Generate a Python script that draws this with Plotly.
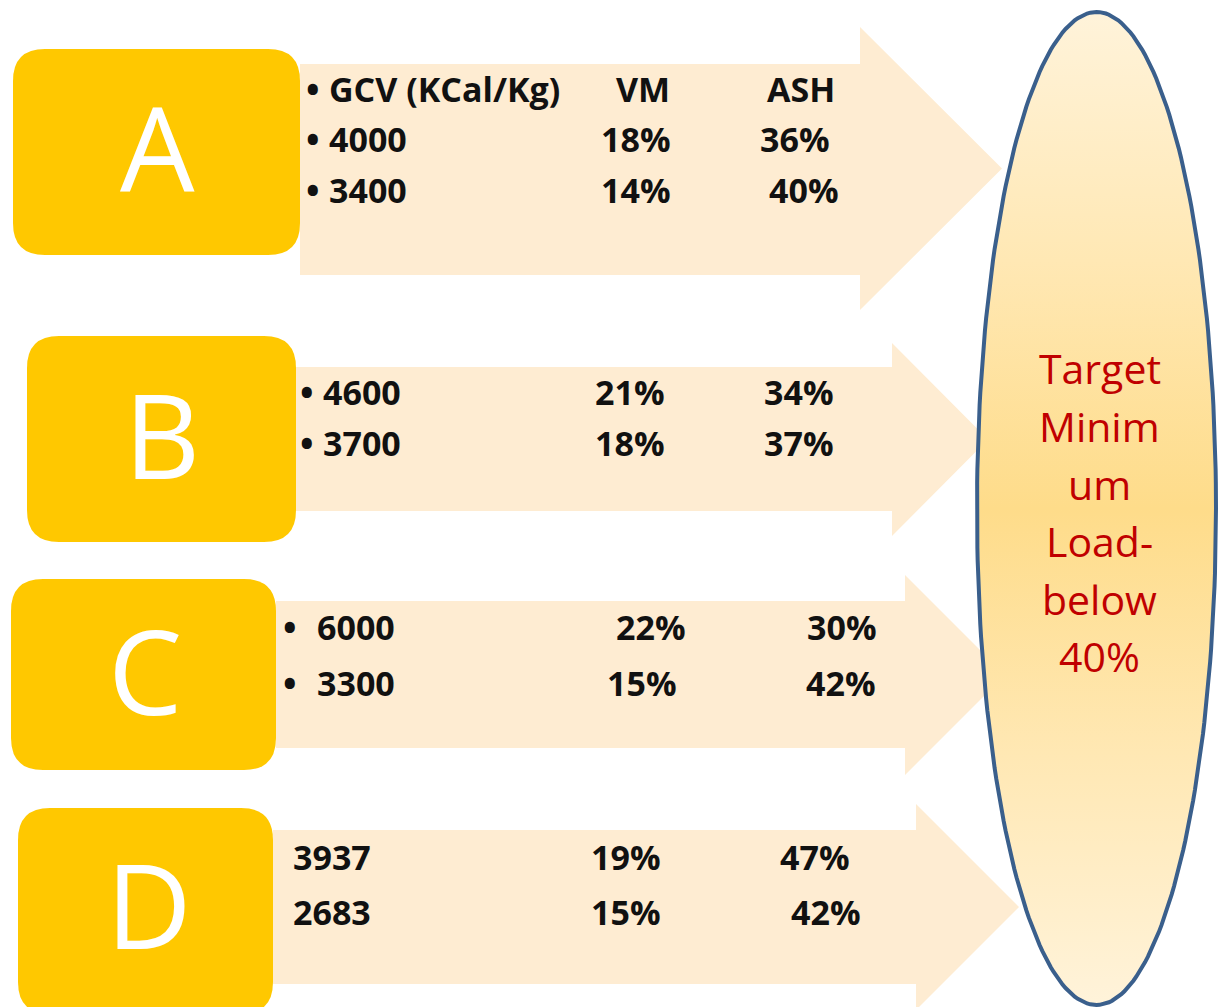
import numpy as np
import plotly.graph_objects as go

# --- data -------------------------------------------------------------
groups = ["A", "B", "C", "D"]
header = ["GCV (KCal/Kg)", "VM", "ASH"]
gcv = [[4000, 3400], [4600, 3700], [6000, 3300], [3937, 2683]]
vm = [[18, 14], [21, 18], [22, 15], [19, 15]]
ash = [[36, 40], [34, 37], [30, 42], [47, 42]]
has_bullets = [True, True, True, False]
target_lines = ["Target", "Minim", "um", "Load-", "below", "40%"]

# --- layout geometry (pixels, y grows downwards) ------------------------
W, H = 1218, 1007
BOX_COLOR = "#FFC800"
ARROW_COLOR = "#FEECD2"
TEXT_FONT = "Open Sans"

# box: x0, y0, x1, y1
boxes = [(13, 49, 300, 255), (27, 336, 296, 542), (11, 579, 276, 770), (18, 808, 273, 1014)]
letter_pos = [(157, 146), (162, 433), (145, 669), (149, 903)]
# arrow: body x0, body y0, body y1, head x, head y0, head y1, tip x
arrows = [
    (300, 64, 275, 860, 27, 310, 1002),
    (296, 367, 511, 892, 343, 536, 988),
    (276, 601, 748, 905, 575, 775, 1005),
    (273, 830, 984, 916, 804, 1010, 1019),
]
# per group: row y, bullet x, col1 x, col2 x per row, col3 x per row
row_y = [[89, 139, 190], [392, 443], [627, 683], [857, 912]]
bullet_x = [313, 307, 290, None]
col1_x = [327, 321, 315, 291]
col2_x = [[614, 599, 599], [593, 593], [614, 605], [589, 589]]
col3_x = [[765, 758, 767], [762, 762], [805, 804], [778, 789]]

ell_cx, ell_cy, ell_rx, ell_ry = 1096.5, 508.5, 119.5, 496.5
target_y = [368, 426, 484, 541, 599, 656]


def rounded_rect(x0, y0, x1, y1, r):
    return (
        f"M {x0 + r},{y0} L {x1 - r},{y0} Q {x1},{y0} {x1},{y0 + r} "
        f"L {x1},{y1 - r} Q {x1},{y1} {x1 - r},{y1} L {x0 + r},{y1} "
        f"Q {x0},{y1} {x0},{y1 - r} L {x0},{y0 + r} Q {x0},{y0} {x0 + r},{y0} Z"
    )


def arrow_path(bx0, by0, by1, hx, hy0, hy1, tip):
    mid = (hy0 + hy1) / 2
    return (
        f"M {bx0},{by0} L {hx},{by0} L {hx},{hy0} L {tip},{mid} "
        f"L {hx},{hy1} L {hx},{by1} L {bx0},{by1} Z"
    )


fig = go.Figure()
shapes = []
annotations = []

# arrows first, boxes over them
for a in arrows:
    shapes.append(dict(type="path", path=arrow_path(*a), fillcolor=ARROW_COLOR,
                       line=dict(width=0), layer="below"))
for b in boxes:
    shapes.append(dict(type="path", path=rounded_rect(*b, 32), fillcolor=BOX_COLOR,
                       line=dict(width=0), layer="below"))

# group letters
for g, (lx, ly) in zip(groups, letter_pos):
    annotations.append(dict(x=lx, y=ly, text=g, showarrow=False, xanchor="center",
                            yanchor="middle",
                            font=dict(family=TEXT_FONT, size=118, color="white")))


def cell(x, y, text):
    annotations.append(dict(x=x, y=y, text=f"<b>{text}</b>", showarrow=False,
                            xanchor="left", yanchor="middle",
                            font=dict(family=TEXT_FONT, size=34, color="#111111")))


# tables
for i in range(len(groups)):
    rows = []
    if i == 0:
        rows.append(header)
    for g_val, v_val, a_val in zip(gcv[i], vm[i], ash[i]):
        rows.append([str(g_val), f"{v_val}%", f"{a_val}%"])
    for j, row in enumerate(rows):
        y = row_y[i][j]
        if has_bullets[i]:
            annotations.append(dict(x=bullet_x[i], y=y, text="<b>•</b>", showarrow=False,
                                    xanchor="center", yanchor="middle",
                                    font=dict(family=TEXT_FONT, size=36, color="#111111")))
        cell(col1_x[i], y, row[0])
        cell(col2_x[i][j], y, row[1])
        cell(col3_x[i][j], y, row[2])

# target ellipse, pale at top/bottom and deeper yellow in the middle
t = np.linspace(0, 2 * np.pi, 241)
fig.add_trace(go.Scatter(
    x=ell_cx + ell_rx * np.cos(t),
    y=ell_cy + ell_ry * np.sin(t),
    mode="lines",
    fill="toself",
    fillgradient=dict(type="vertical",
                      colorscale=[[0, "#FFF3DA"], [0.25, "#FFE8B4"], [0.5, "#FEDC8A"],
                                  [0.75, "#FFE8B4"], [1, "#FFF3DA"]]),
    line=dict(color="#3A5F8C", width=4),
    cliponaxis=False,
    hoverinfo="skip",
    showlegend=False,
))

for line_text, ly in zip(target_lines, target_y):
    annotations.append(dict(x=ell_cx + 3, y=ly, text=line_text, showarrow=False,
                            xanchor="center", yanchor="middle",
                            font=dict(family=TEXT_FONT, size=41, color="#C00000")))

fig.update_layout(
    width=W,
    height=H,
    margin=dict(l=0, r=0, t=0, b=0),
    paper_bgcolor="white",
    plot_bgcolor="white",
    xaxis=dict(range=[0, W], visible=False, fixedrange=True),
    yaxis=dict(range=[H, 0], visible=False, fixedrange=True),
    shapes=shapes,
    annotations=annotations,
    showlegend=False,
)

# drop the page's default body margin so the figure fills the window exactly
fig.write_html("out.html",
               config={"displayModeBar": False},
               post_script="document.body.style.margin='0';document.body.style.overflow='hidden';")
